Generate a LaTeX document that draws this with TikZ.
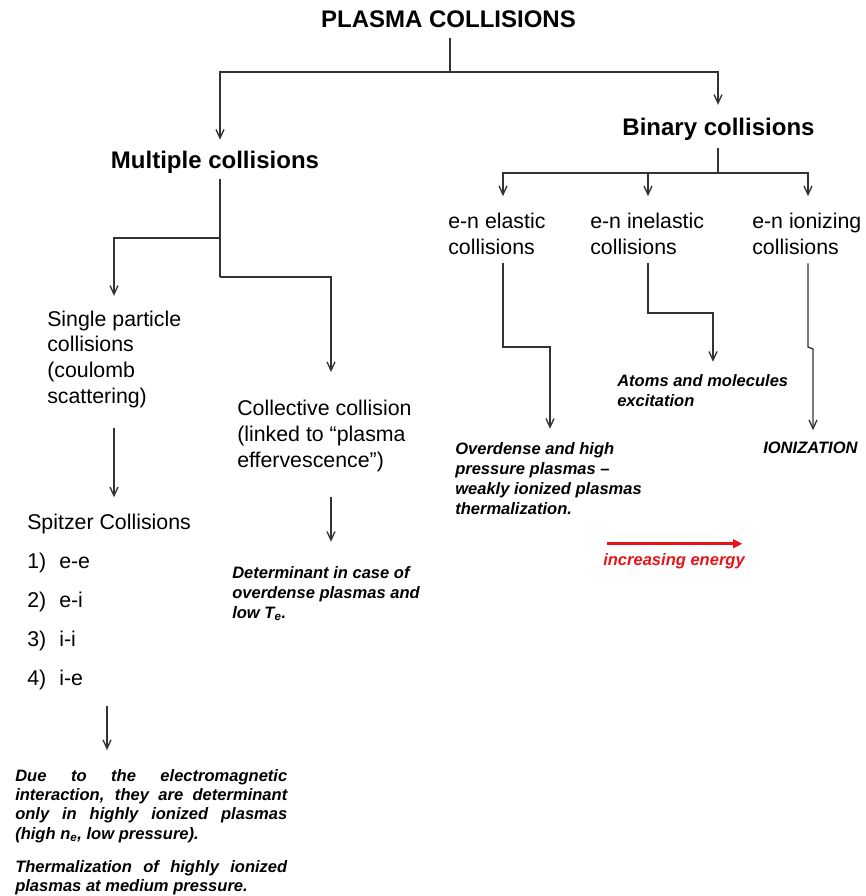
\documentclass[tikz,border=0pt]{standalone}
\usepackage{fontspec}
\setmainfont{Liberation Sans}
\usetikzlibrary{arrows.meta}
\definecolor{energyred}{RGB}{230,20,25}
\setlength{\parindent}{0pt}
\hyphenpenalty=10000

\tikzset{
	heading/.style={font=\bfseries\fontsize{18}{21}\selectfont, inner sep=0pt, anchor=base},
	plain/.style={font=\fontsize{16}{19.2}\selectfont, align=left, inner sep=0pt, anchor=base west},
	remark/.style={font=\bfseries\itshape\fontsize{12.4}{15}\selectfont, align=left, inner sep=0pt, anchor=base west},
	link/.style={draw=black!80, line width=1pt},
}

\begin{document}
\begin{tikzpicture}[x=0.75pt, y=-0.75pt, >={Straight Barb[length=6.5pt,width=6pt]}]
	\useasboundingbox (0,0) rectangle (865,896);

	\begin{scope}
		\node[heading] (title) at (448.5,27) {PLASMA COLLISIONS};
		\node[heading] (multi) at (215,168) {Multiple collisions};
		\node[heading] (binary) at (718.5,135) {Binary collisions};
	\end{scope}

	% multiple collisions (multi-line nodes sit on their last line)
	\begin{scope}
		\node[plain] (single) at (47,403) {Single particle\\collisions\\(coulomb\\scattering)};
		\node[plain] (collective) at (237,467) {Collective collision\\(linked to “plasma\\effervescence”)};
		\node[plain] (spitzer) at (27,529) {Spitzer Collisions};
		\foreach \kind [count=\i] in {e-e, e-i, i-i, i-e}
		{
			\node[plain] (num\i) at (27,{568+39*(\i-1)}) {\i)};
			\node[plain] (item\i) at (59,{568+39*(\i-1)}) {\kind};
		}
		\node[remark] (determinant) at (232,618) {Determinant in case of\\overdense plasmas and\\low T\textsubscript{e}.};
		\node[remark, font=\bfseries\itshape\fontsize{12.4}{14.6}\selectfont, text width=204pt, align=justify] (due) at (15,781)
			{Due to the electromagnetic interaction, they are determinant only in highly ionized plasmas (high n\textsubscript{e}, low pressure).\par\vspace{10pt}Thermalization of highly ionized plasmas at medium pressure.};
	\end{scope}

	% binary collisions
	\begin{scope}
		\node[plain] (elastic) at (448,254) {e-n elastic\\collisions};
		\node[plain] (inelastic) at (590,254) {e-n inelastic\\collisions};
		\node[plain] (ionizing) at (752,254) {e-n ionizing\\collisions};
		\node[remark] (atoms) at (617,406) {Atoms and molecules\\excitation};
		\node[remark] (overdense) at (455,514) {Overdense and high\\pressure plasmas –\\weakly ionized plasmas\\thermalization.};
		\node[remark] (ionization) at (763,453) {IONIZATION};
		\node[remark, text=energyred] (energy) at (603,565) {increasing energy};
	\end{scope}

	% junctions
	\coordinate (tj) at (450,72);
	\coordinate (mj) at (220,238);
	\coordinate (mk) at (220,277);
	\coordinate (sj) at (114,238);
	\coordinate (ck) at (331,277);
	\coordinate (dj) at (107,706);
	\coordinate (bj) at (718,173);
	\coordinate (e1) at (503,347);
	\coordinate (e2) at (550,347);
	\coordinate (i1) at (648,313);
	\coordinate (i2) at (713,313);
	\coordinate (n1) at (808,347);
	\coordinate (n2) at (813,349);

	\begin{scope}[link]
		\draw[shorten <=7.5pt] (tj |- title.south) -- (tj);
		\draw[->, shorten >=8pt] (tj) -| (mj |- multi.north);
		\draw[->, shorten >=9.4pt] (tj) -| (bj |- binary.north);

		\draw[shorten <=4.5pt] (mj |- multi.south) -- (mk);
		\draw[->, shorten >=11pt] (mj) -- (sj) -- (sj |- single.north);
		\draw[->, shorten >=21pt] (mk) -- (ck) -- (ck |- collective.north);
		\draw[->, shorten <=15pt, shorten >=12pt] (sj |- single.south) -- (sj |- spitzer.north);
		\draw[->, shorten <=19pt, shorten >=18pt] (ck |- collective.south) -- (ck |- determinant.north);
		\draw[->, shorten <=12.4pt, shorten >=14pt] (dj |- num4.south) -- (dj |- due.north);

		\draw[shorten <=6pt] (bj |- binary.south) -- (bj);
		\foreach \nd/\x in {elastic/503, inelastic/648, ionizing/808}
		{
			\draw[->, shorten >=12.4pt] (bj) -| (\x,0 |- \nd.north);
		}
		\draw[->, shorten <=6.75pt, shorten >=9.75pt] (e1 |- elastic.south) -- (e1) -- (e2) -- (e2 |- overdense.north);
		\draw[->, shorten <=6.75pt, shorten >=9pt] (i1 |- inelastic.south) -- (i1) -- (i2) -- (i2 |- atoms.north);
		\draw[->, shorten <=6.75pt, shorten >=8.25pt] (n1 |- ionizing.south) -- (n1) -- (n2) -- (n2 |- ionization.north);
	\end{scope}

	\draw[energyred, line width=2pt, -{Triangle[length=7pt,width=6.5pt]}]
		([xshift=3pt,yshift=6.75pt]energy.north west) -- ([xshift=-2pt,yshift=6.75pt]energy.north east);
\end{tikzpicture}
\end{document}
